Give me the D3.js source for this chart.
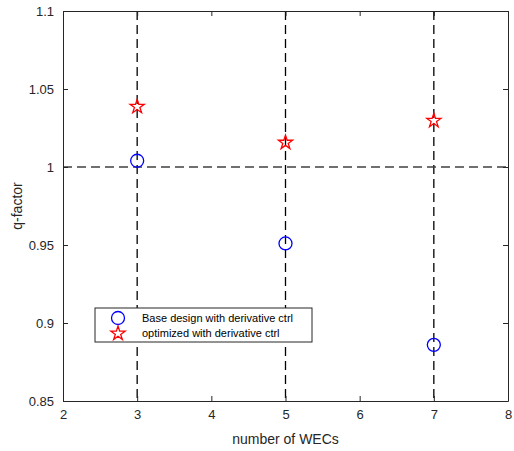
<!DOCTYPE html>
<html>
<head>
<meta charset="utf-8">
<script src="https://cdn.jsdelivr.net/npm/d3@7"></script>
<style>
body { margin: 0; background: #fff; }
text { font-family: "Liberation Sans", Arial, sans-serif; }
</style>
</head>
<body>
<script>
// data
var nWECs = [3, 5, 7];
var baseQ = [1.004, 0.951, 0.886];
var optQ = [1.039, 1.016, 1.030];
var xTicks = [2, 3, 4, 5, 6, 7, 8];
var yTicks = [0.85, 0.9, 0.95, 1, 1.05, 1.1];
var legendLabels = ["Base design with derivative ctrl", "optimized with derivative ctrl"];

var width = 514, height = 451;
var margin = { left: 63, right: 6, top: 11, bottom: 50 };

var svg = d3.select("body").append("svg")
    .attr("width", width)
    .attr("height", height);

var x = d3.scaleLinear().domain([2, 8]).range([margin.left, width - margin.right]);
var y = d3.scaleLinear().domain([0.85, 1.1]).range([height - margin.bottom, margin.top]);

var x0 = x.range()[0], x1 = x.range()[1], y0 = y.range()[0], y1 = y.range()[1];

// dashed reference lines
svg.selectAll(".vline")
    .data(nWECs)
    .enter().append("line")
    .attr("x1", d => x(d)).attr("x2", d => x(d))
    .attr("y1", y1).attr("y2", y0)
    .attr("stroke", "#000")
    .attr("stroke-width", 1.3)
    .attr("stroke-dasharray", "9,5");

svg.append("line")
    .attr("x1", x0).attr("x2", x1)
    .attr("y1", y(1)).attr("y2", y(1))
    .attr("stroke", "#404040")
    .attr("stroke-width", 1.6)
    .attr("stroke-dasharray", "9,5");

// axes (ticks inside, MATLAB style)
var axisColor = "#262626";
var gBottom = svg.append("g").attr("transform", "translate(0," + y0 + ")")
    .call(d3.axisBottom(x).tickValues(xTicks).tickSizeInner(-5).tickSizeOuter(0).tickPadding(9).tickFormat(d3.format("d")));
var gTop = svg.append("g").attr("transform", "translate(0," + y1 + ")")
    .call(d3.axisTop(x).tickValues(xTicks).tickSizeInner(-5).tickSizeOuter(0).tickFormat(""));
var gLeft = svg.append("g").attr("transform", "translate(" + x0 + ",0)")
    .call(d3.axisLeft(y).tickValues(yTicks).tickSizeInner(-5).tickSizeOuter(0).tickPadding(9).tickFormat(d => String(+d.toFixed(2))));
var gRight = svg.append("g").attr("transform", "translate(" + x1 + ",0)")
    .call(d3.axisRight(y).tickValues(yTicks).tickSizeInner(-5).tickSizeOuter(0).tickFormat(""));

[gBottom, gTop, gLeft, gRight].forEach(function (g) {
    g.selectAll("path").attr("stroke", axisColor).attr("stroke-width", 1);
    g.selectAll("line").attr("stroke", axisColor);
    g.selectAll("text").attr("fill", axisColor).style("font-size", "13px").style("font-family", "Liberation Sans, Arial, sans-serif");
});

// axis labels
svg.append("text")
    .attr("x", (x0 + x1) / 2).attr("y", 444)
    .attr("text-anchor", "middle")
    .attr("fill", axisColor)
    .style("font-size", "14px")
    .text("number of WECs");

svg.append("text")
    .attr("transform", "translate(22," + ((y0 + y1) / 2) + ") rotate(-90)")
    .attr("text-anchor", "middle")
    .attr("fill", axisColor)
    .style("font-size", "14px")
    .text("q-factor");

// markers
var star = d3.symbol().type(d3.symbolStar).size(62);

svg.selectAll(".base")
    .data(nWECs)
    .enter().append("circle")
    .attr("cx", d => x(d))
    .attr("cy", (d, i) => y(baseQ[i]))
    .attr("r", 6.5)
    .attr("fill", "none")
    .attr("stroke", "#0000ff")
    .attr("stroke-width", 1.3);

svg.selectAll(".opt")
    .data(nWECs)
    .enter().append("path")
    .attr("d", star)
    .attr("transform", (d, i) => "translate(" + x(d) + "," + (y(optQ[i]) + 0.5) + ")")
    .attr("fill", "none")
    .attr("stroke", "#ff0000")
    .attr("stroke-width", 1.3);

// legend
var lg = svg.append("g").attr("transform", "translate(95,308)");
lg.append("rect")
    .attr("width", 217).attr("height", 34)
    .attr("fill", "#fff")
    .attr("stroke", axisColor)
    .attr("stroke-width", 1);
lg.append("circle")
    .attr("cx", 23).attr("cy", 10).attr("r", 6.5)
    .attr("fill", "none").attr("stroke", "#0000ff").attr("stroke-width", 1.3);
lg.append("path")
    .attr("d", star)
    .attr("transform", "translate(23,25.5)")
    .attr("fill", "none").attr("stroke", "#ff0000").attr("stroke-width", 1.3);
lg.selectAll(".lt")
    .data(legendLabels)
    .enter().append("text")
    .attr("x", 47)
    .attr("y", (d, i) => 14 + i * 15)
    .attr("fill", "#000")
    .style("font-size", "11px")
    .text(d => d);
</script>
</body>
</html>
